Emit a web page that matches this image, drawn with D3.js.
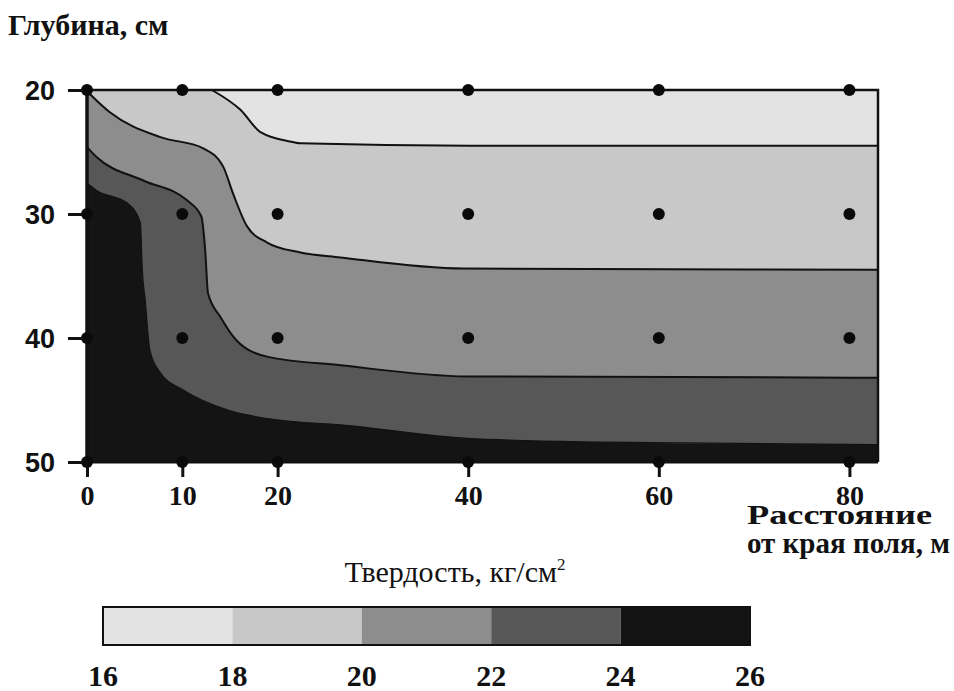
<!DOCTYPE html>
<html><head><meta charset="utf-8">
<script src="https://cdn.jsdelivr.net/npm/d3@7"></script>
<style>body{margin:0;background:#fff}svg{display:block}</style>
</head><body><svg id="c" width="954" height="691"></svg>
<script>
// ---- data ----
const xTicks = [0, 10, 20, 40, 60, 80];
const yTicks = [20, 30, 40, 50];
const levels = [16, 18, 20, 22, 24, 26];
const bandColors = ["#e3e3e3", "#c8c8c8", "#8d8d8d", "#575757", "#141414"];
const sampleX = [0, 10, 20, 40, 60, 80];
const sampleDepth = [20, 30, 40, 50];
// isolines [distance m, depth cm]
const iso18 = [[13.1,20],[16.1,21.6],[18.2,23.4],[21.6,24.2],[22.4,24.3],[40.2,24.5],[83,24.5]];
const iso20 = [[0,20.1],[2.4,21.8],[7.7,23.8],[12.2,24.7],[14.3,26.2],[15.3,28.3],[16.8,31.0],[18.9,32.3],[22.4,33.1],[26.6,33.5],[39.5,34.4],[83,34.5]];
const iso22 = [[0,24.6],[1.0,25.4],[5.9,27.3],[10.5,28.9],[12.0,30.2],[12.4,32.9],[12.7,36.4],[14.0,38.3],[15.7,40.2],[18.9,41.5],[26.6,42.2],[39.9,43.1],[83,43.2]];
const iso24 = [[0,27.5],[1.0,28.1],[4.2,29.1],[5.6,30.7],[5.8,34.5],[6.1,36.9],[6.6,41.0],[7.7,42.8],[10.1,44.2],[14.7,45.8],[19.9,46.6],[26.6,47.0],[39.9,48.1],[53.9,48.4],[83,48.6]];
const isolines = [iso18, iso20, iso22, iso24];
const xDomain = [0, 83];
const yDomain = [20, 50];

// ---- drawing ----
const svg = d3.select("#c");
const x = d3.scaleLinear().domain(xDomain).range([87, 878]);
const y = d3.scaleLinear().domain(yDomain).range([90, 462]);
const serif = "'Liberation Serif','Times New Roman',serif";
const sans = "'Liberation Sans',Arial,sans-serif";

const line = d3.line().x(d => x(d[0])).y(d => y(d[1])).curve(d3.curveMonotoneX);

const plot = svg.append("g");
plot.append("rect").attr("x", x(xDomain[0])).attr("y", y(yDomain[0]))
  .attr("width", x(xDomain[1]) - x(xDomain[0])).attr("height", y(yDomain[1]) - y(yDomain[0]))
  .attr("fill", bandColors[0]);

isolines.forEach((pts, i) => {
  const p = line(pts) + "L" + x(xDomain[1]) + "," + y(yDomain[1]) +
    "L" + x(xDomain[0]) + "," + y(yDomain[1]) +
    "L" + x(xDomain[0]) + "," + y(yDomain[0]) + "Z";
  plot.append("path").attr("d", p).attr("fill", bandColors[i + 1]);
});
isolines.forEach((pts, i) => {
  plot.append("path").attr("d", line(pts)).attr("fill", "none")
    .attr("stroke", "#111").attr("stroke-width", i === 3 ? 1.2 : 2);
});

// frame
plot.append("path")
  .attr("d", `M${x(xDomain[0])},${y(yDomain[0])}H${x(xDomain[1])}V${y(yDomain[1])}`)
  .attr("fill", "none").attr("stroke", "#111").attr("stroke-width", 2.5);
plot.append("line").attr("x1", x(0)).attr("x2", x(0)).attr("y1", y(20)).attr("y2", y(50))
  .attr("stroke", "#111").attr("stroke-width", 3.5);
plot.append("line").attr("x1", x(0)).attr("x2", x(xDomain[1])).attr("y1", y(50)).attr("y2", y(50))
  .attr("stroke", "#111").attr("stroke-width", 3);

// axes
const yAxis = d3.axisLeft(y).tickValues(yTicks).tickSize(19).tickPadding(13);
const gy = svg.append("g").attr("transform", `translate(${x(0)},0)`).call(yAxis);
gy.select(".domain").remove();
gy.selectAll(".tick line").attr("stroke", "#111").attr("stroke-width", 3);
gy.selectAll(".tick text").attr("font-family", sans).attr("font-weight", "bold")
  .attr("font-size", 27).attr("fill", "#111").attr("dy", "0.36em");

const xAxis = d3.axisBottom(x).tickValues(xTicks).tickSize(15).tickPadding(8);
const gx = svg.append("g").attr("transform", `translate(0,${y(50)})`).call(xAxis);
gx.select(".domain").remove();
gx.selectAll(".tick line").attr("stroke", "#111").attr("stroke-width", 3);
gx.selectAll(".tick text").attr("font-family", serif).attr("font-weight", "bold")
  .attr("font-size", 28).attr("fill", "#111");

// sample points
const pts = [];
sampleDepth.forEach(d => sampleX.forEach(s => pts.push([s, d])));
svg.append("g").selectAll("circle").data(pts).join("circle")
  .attr("cx", d => x(d[0])).attr("cy", d => y(d[1])).attr("r", 6).attr("fill", "#0a0a0a");

// titles
svg.append("text").attr("x", 8).attr("y", 35).attr("font-family", serif).attr("font-weight", "bold")
  .attr("font-size", 30).attr("fill", "#111").text("Глубина, см");
svg.append("text").attr("x", 747).attr("y", 524).attr("font-family", serif).attr("font-weight", "bold")
  .attr("font-size", 27).attr("fill", "#111")
  .attr("textLength", 185).attr("lengthAdjust", "spacingAndGlyphs").text("Расстояние");
svg.append("text").attr("x", 747).attr("y", 553).attr("font-family", serif).attr("font-weight", "bold")
  .attr("font-size", 29).attr("fill", "#111")
  .attr("textLength", 203).attr("lengthAdjust", "spacingAndGlyphs").text("от края поля, м");

// legend
const lx = d3.scaleLinear().domain([levels[0], levels[levels.length - 1]]).range([103, 750]);
const lg = svg.append("g");
const t = lg.append("text").attr("x", 455).attr("y", 582).attr("text-anchor", "middle")
  .attr("font-family", serif).attr("font-size", 30).attr("fill", "#111");
t.append("tspan").text("Твердость, кг/см");
t.append("tspan").attr("font-size", 17).attr("dy", -12).text("2");
lg.selectAll("rect.b").data(bandColors).join("rect").attr("class", "b")
  .attr("x", (d, i) => lx(levels[i])).attr("y", 607)
  .attr("width", (d, i) => lx(levels[i + 1]) - lx(levels[i])).attr("height", 38)
  .attr("fill", d => d);
lg.append("rect").attr("x", lx(16)).attr("y", 607).attr("width", lx(26) - lx(16)).attr("height", 38)
  .attr("fill", "none").attr("stroke", "#111").attr("stroke-width", 2);
lg.selectAll("text.l").data(levels).join("text").attr("class", "l")
  .attr("x", d => lx(d)).attr("y", 686).attr("text-anchor", "middle")
  .attr("font-family", serif).attr("font-weight", "bold").attr("font-size", 30).attr("fill", "#111")
  .text(d => d);
</script></body></html>
